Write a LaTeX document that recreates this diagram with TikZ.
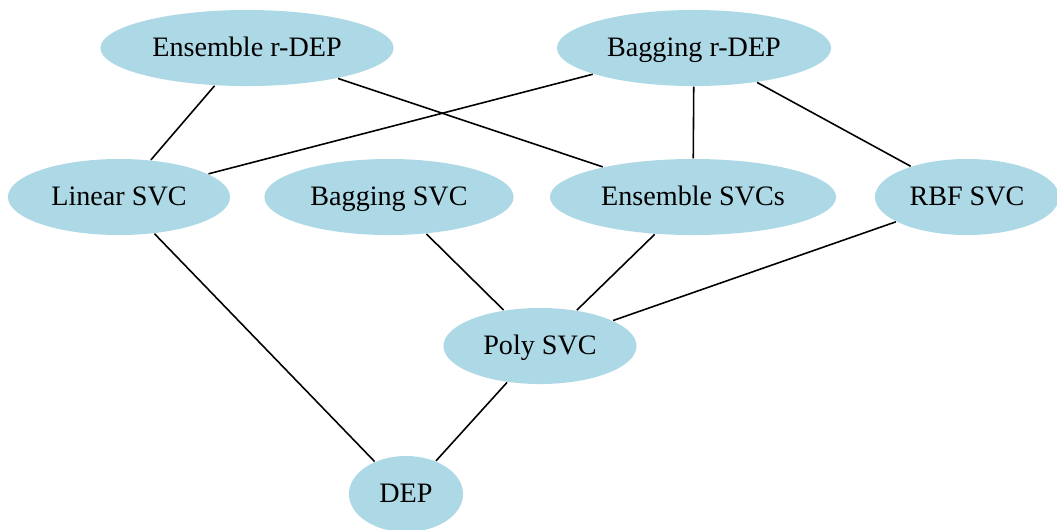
\documentclass[tikz,border=0pt]{standalone}
\usepackage{fontspec}
\setmainfont{Liberation Serif}
\usetikzlibrary{shapes.geometric}
\definecolor{nodeblue}{HTML}{ADD8E6}
\tikzset{
  model/.style={ellipse, fill=nodeblue, inner sep=0pt, minimum height=0.76cm,
    text height=1.5ex, text depth=0.45ex,
    font=\fontsize{8}{10}\selectfont},
  link/.style={line width=0.45pt, black}
}

\begin{document}
\begin{tikzpicture}[x=0.01cm, y=-0.01cm]
			%%%%% START %%%%%
			\useasboundingbox (0, 0) rectangle (1057, 529);
			
			\node[model, minimum width=2.93cm] (ensrdep) at (247, 48) {Ensemble r-DEP};
			\node[model, minimum width=2.74cm] (bagrdep) at (694, 48) {Bagging r-DEP};
			
			\node[model, minimum width=2.22cm] (linsvc) at (119, 197) {Linear SVC};
			\node[model, minimum width=2.49cm] (bagsvc) at (389, 197) {Bagging SVC};
			\node[model, minimum width=2.86cm] (enssvc) at (693, 197) {Ensemble SVCs};
			\node[model, minimum width=1.84cm] (rbfsvc) at (967, 197) {RBF SVC};
			
			\node[model, minimum width=1.93cm] (polysvc) at (540, 346) {Poly SVC};
			
			\node[model, minimum width=1.14cm] (dep) at (406, 494) {DEP};
			
			\draw[link] (ensrdep) -- (linsvc);
			\draw[link] (ensrdep) -- (enssvc);
			\draw[link] (bagrdep) -- (linsvc);
			\draw[link] (bagrdep) -- (enssvc);
			\draw[link] (bagrdep) -- (rbfsvc);
			
			\draw[link] (linsvc) -- (dep);
			\draw[link] (bagsvc) -- (polysvc);
			\draw[link] (enssvc) -- (polysvc);
			\draw[link] (rbfsvc) -- (polysvc);
			\draw[link] (polysvc) -- (dep);
			
			%%%%% END %%%%%
\end{tikzpicture}
\end{document}
